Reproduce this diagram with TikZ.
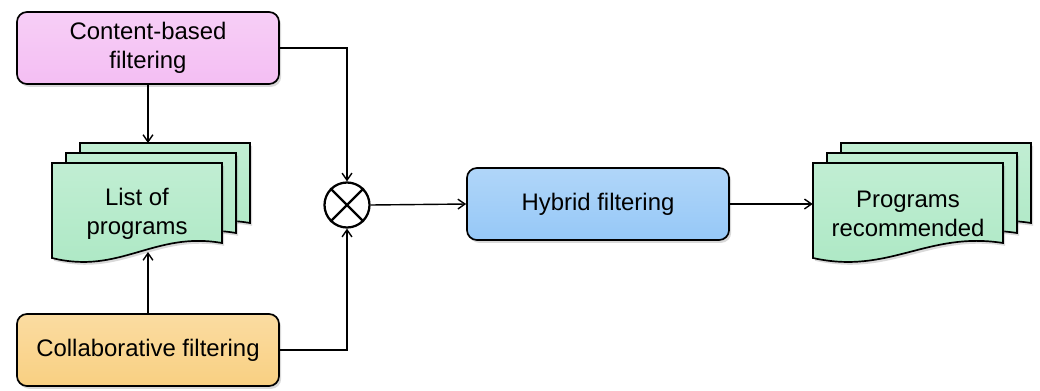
\documentclass[tikz,border=0pt]{standalone}
\usepackage{fontspec}
\setmainfont{Liberation Sans}
\usetikzlibrary{arrows.meta,shadows}

\definecolor{cbpink}{RGB}{244,190,243}
\definecolor{copeach}{RGB}{249,208,130}
\definecolor{hyblue}{RGB}{150,200,247}
\definecolor{pggreen}{RGB}{172,232,196}

\tikzset{
  filterbox/.style={draw, line width=1.2pt, rounded corners=0.25cm,
    minimum width=6.55cm, minimum height=1.8cm, align=center,
    top color=#1!75!white, bottom color=#1,
    font=\fontsize{17}{21}\selectfont,
    drop shadow={opacity=0.3, shadow xshift=1.5pt, shadow yshift=-2pt}},
  page/.style={draw, line width=1.2pt, top color=pggreen!75!white, bottom color=pggreen,
    drop shadow={opacity=0.3, shadow xshift=1.5pt, shadow yshift=-2pt}},
  pagetext/.style={align=center, font=\fontsize{17}{21}\selectfont},
  link/.style={line width=1pt, -{Straight Barb[length=5pt,width=7pt]}}
}

\begin{document}
\begin{tikzpicture}[x=0.025cm, y=-0.025cm]
  \useasboundingbox (0,0) rectangle (1040,390);

  % filtering boxes
  \node[filterbox=cbpink] (content) at (148,48) {Content-based\\filtering};
  \node[filterbox=copeach] (collab) at (148,350) {Collaborative filtering};
  \node[filterbox=hyblue] (hybrid) at (598,204) {Hybrid filtering};

  % stacked pages
  \foreach \d in {28,14,0} {
    \begin{scope}[shift={(52+\d,163-\d*5/7)}]
      \path[page] (0,0) -- (170,0) -- (170,80) .. controls (102,68) and (68,112) .. (0,95) -- cycle;
    \end{scope}
    \begin{scope}[shift={(813+\d,163-\d*5/7)}]
      \path[page] (0,0) -- (190,0) -- (190,80) .. controls (114,68) and (76,112) .. (0,95) -- cycle;
    \end{scope}
  }
  \node[pagetext, minimum width=4.25cm] (list) at (137,214) {List of\\programs};
  \node[pagetext, minimum width=4.75cm] (recommended) at (908,214) {Programs\\recommended};
  \coordinate (listtop) at (148,143);
  \coordinate (listbottom) at (148,252);

  % combining node
  \node[draw, circle, line width=1.6pt, minimum size=1.125cm, inner sep=0pt] (mix) at (347,205) {};
  \draw[line width=1.6pt] (mix.north east) -- (mix.south west) (mix.north west) -- (mix.south east);

  % connectors
  \draw[link] (content.south) -- (content.south |- listtop);
  \draw[link] (collab.north) -- (collab.north |- listbottom);
  \draw[link] (content.east) -| (mix.north);
  \draw[link] (collab.east) -| (mix.south);
  \draw[link] (mix.east) -- (hybrid.west);
  \draw[link] (hybrid.east) -- (hybrid.east -| recommended.west);
\end{tikzpicture}
\end{document}
